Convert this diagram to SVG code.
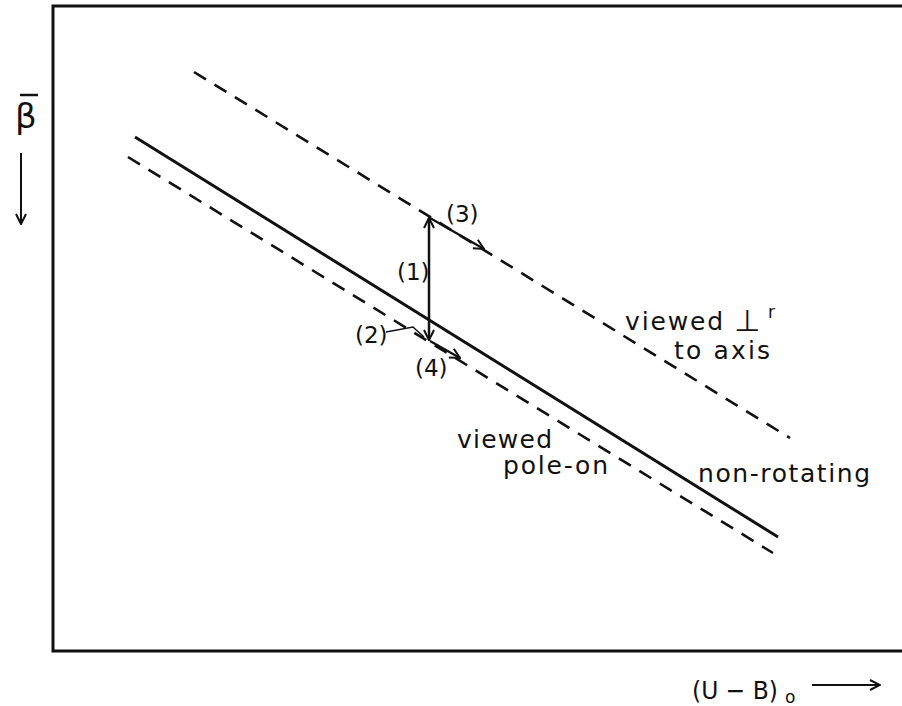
<svg xmlns="http://www.w3.org/2000/svg" width="902" height="706" viewBox="0 0 902 706">
<defs>
<style>
.t{font-family:"DejaVu Sans","Liberation Sans",sans-serif;font-size:23px;fill:#111}
.big{font-size:25px}
.ln{stroke:#111;fill:none;stroke-linecap:butt}
.dash{stroke:#111;stroke-width:2.6;fill:none;stroke-dasharray:14 10}
</style>
<marker id="ah" viewBox="0 0 12 12" refX="11" refY="6" markerWidth="12" markerHeight="12" markerUnits="userSpaceOnUse" orient="auto">
<path d="M1,1 L11,6 L1,11" fill="none" stroke="#111" stroke-width="2"/>
</marker>
</defs>
<rect width="902" height="706" fill="#fff"/>
<g id="frame">
<path class="ln" stroke-width="3" d="M902,6 H53 V651 H902"/>
</g>
<g id="axes-labels">
<text class="t" x="15" y="128" style="font-size:34px">β</text>
<line class="ln" stroke-width="2.5" x1="20" y1="95" x2="38" y2="95"/>
<line class="ln" stroke-width="2" x1="21" y1="153" x2="21" y2="224" marker-end="url(#ah)"/>
<text class="t big" x="692" y="699" textLength="86" lengthAdjust="spacingAndGlyphs">(U − B)</text>
<text class="t" x="785" y="703" style="font-size:17px">o</text>
<line class="ln" stroke-width="2" x1="812" y1="685" x2="880" y2="685" marker-end="url(#ah)"/>
</g>
<g id="lines">
<line id="non-rotating-line" class="ln" stroke-width="3" x1="135" y1="137" x2="778" y2="537"/>
<line id="pole-on-line" class="dash" x1="128" y1="157" x2="773" y2="553"/>
<line id="perp-line" class="dash" x1="194" y1="72" x2="790" y2="438"/>
</g>
<g id="connectors">
<line class="ln" stroke-width="2.5" x1="429" y1="340" x2="429" y2="218" marker-end="url(#ah)"/>
<line class="ln" stroke-width="2" x1="429" y1="322" x2="429" y2="340" marker-end="url(#ah)"/>
<line class="ln" stroke-width="2.2" x1="430" y1="218" x2="484" y2="249" marker-end="url(#ah)"/>
<line class="ln" stroke-width="2.2" x1="430" y1="341" x2="460" y2="358" marker-end="url(#ah)"/>
<polyline class="ln" stroke-width="1.5" points="386,332 413,327 424,337"/>
</g>
<g id="labels">
<text class="t" x="446" y="222">(3)</text>
<text class="t" x="397" y="280">(1)</text>
<text class="t" x="355" y="343">(2)</text>
<text class="t" x="415" y="376">(4)</text>
<text class="t big" x="625" y="330" textLength="98" lengthAdjust="spacing">viewed</text>
<text class="t" x="734" y="331" style="font-size:30px">⊥</text>
<text class="t" x="768" y="318" style="font-size:17px">r</text>
<text class="t big" x="674" y="359" textLength="96" lengthAdjust="spacing">to axis</text>
<text class="t big" x="457" y="448" textLength="95" lengthAdjust="spacing">viewed</text>
<text class="t big" x="503" y="474" textLength="105" lengthAdjust="spacing">pole-on</text>
<text class="t big" x="698" y="482" textLength="172" lengthAdjust="spacing">non-rotating</text>
</g>
</svg>
